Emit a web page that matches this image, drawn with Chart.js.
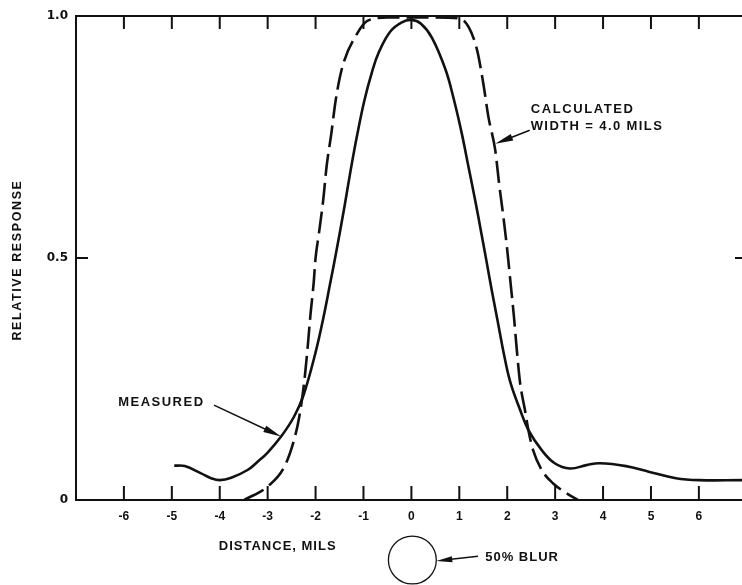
<!DOCTYPE html>
<html>
<head>
<meta charset="utf-8">
<script src="https://cdn.jsdelivr.net/npm/chart.js@4.4.0/dist/chart.umd.min.js"></script>
<style>
html, body { margin: 0; padding: 0; background: #fff; }
#wrap { width: 742px; height: 585px; position: relative; }
</style>
</head>
<body>
<div id="wrap"><canvas id="chart"></canvas></div>
<script>
// values (distance in mils, relative response)
const measuredX = [-4.95, -4.73, -4.39, -4.18, -4.0, -3.76, -3.42, -3.21, -3.0, -2.72, -2.45, -2.25, -2.0, -1.84, -1.70, -1.56, -1.39, -1.27, -1.13, -0.98, -0.82, -0.68, -0.44, -0.2, 0, 0.2, 0.43, 0.71, 0.88, 1.05, 1.19, 1.33, 1.46, 1.57, 1.68, 1.80, 1.92, 2.06, 2.27, 2.44, 2.72, 2.99, 3.31, 3.65, 3.93, 4.48, 4.97, 5.52, 6.01, 6.9];
const measuredY = [0.071, 0.07, 0.055, 0.045, 0.041, 0.046, 0.062, 0.079, 0.098, 0.131, 0.172, 0.217, 0.305, 0.375, 0.445, 0.517, 0.61, 0.68, 0.755, 0.826, 0.885, 0.925, 0.968, 0.987, 0.992, 0.984, 0.955, 0.89, 0.83, 0.758, 0.689, 0.62, 0.551, 0.492, 0.432, 0.37, 0.307, 0.245, 0.186, 0.145, 0.103, 0.076, 0.065, 0.072, 0.076, 0.07, 0.058, 0.045, 0.041, 0.041];

const calculatedX = [-3.49, -3.0, -2.65, -2.43, -2.34, -2.24, -2.17, -2.11, -2.04, -2.0, -1.93, -1.84, -1.77, -1.67, -1.58, -1.44, -1.13, -0.92, -0.5, 0, 0.5, 0.98, 1.19, 1.37, 1.5, 1.61, 1.75, 1.83, 1.92, 2.0, 2.07, 2.14, 2.2, 2.27, 2.37, 2.44, 2.54, 2.72, 2.96, 3.24, 3.48];
const calculatedY = [0.0, 0.028, 0.069, 0.131, 0.172, 0.241, 0.31, 0.379, 0.448, 0.5, 0.551, 0.62, 0.689, 0.758, 0.826, 0.895, 0.964, 0.99, 0.997, 0.997, 0.997, 0.995, 0.978, 0.93, 0.861, 0.79, 0.723, 0.654, 0.585, 0.517, 0.448, 0.379, 0.31, 0.241, 0.186, 0.145, 0.103, 0.062, 0.034, 0.014, 0.0];

const xTicks = [-6, -5, -4, -3, -2, -1, 0, 1, 2, 3, 4, 5, 6];
const yTicks = [0, 0.5, 1];
const yTickLabels = ['0', '0.5', '1.0'];

Chart.defaults.font.family = "'Liberation Sans', Arial, sans-serif";
Chart.defaults.color = '#111';

const INK = '#111';
const TEXT_FONT = "bold 13px 'Liberation Sans', Arial, sans-serif";

function arrow(ctx, x1, y1, x2, y2, headLen, headW) {
    const a = Math.atan2(y2 - y1, x2 - x1);
    const c = Math.cos(a), s = Math.sin(a);
    ctx.beginPath();
    ctx.moveTo(x1, y1);
    ctx.lineTo(x2 - c * headLen * 0.5, y2 - s * headLen * 0.5);
    ctx.stroke();
    ctx.beginPath();
    ctx.moveTo(x2, y2);
    ctx.lineTo(x2 - headLen * c + headW * s, y2 - headLen * s - headW * c);
    ctx.lineTo(x2 - headLen * c - headW * s, y2 - headLen * s + headW * c);
    ctx.closePath();
    ctx.fill();
}

// frame, inward ticks and the hand-lettered notes
const framePlugin = {
    id: 'frame',
    afterDatasetsDraw(chart) {
        const ctx = chart.ctx;
        const area = chart.chartArea;
        const x = chart.scales.x;
        const y = chart.scales.y;
        ctx.save();
        ctx.strokeStyle = INK;
        ctx.fillStyle = INK;

        // axes box (no right side)
        ctx.lineWidth = 2;
        ctx.beginPath();
        ctx.moveTo(area.right, area.top);
        ctx.lineTo(area.left, area.top);
        ctx.lineTo(area.left, area.bottom);
        ctx.lineTo(area.right, area.bottom);
        ctx.stroke();

        // inward ticks
        xTicks.forEach(v => {
            const px = x.getPixelForValue(v);
            ctx.beginPath();
            ctx.moveTo(px, area.bottom);
            ctx.lineTo(px, area.bottom - 14);
            ctx.moveTo(px, area.top);
            ctx.lineTo(px, area.top + 13);
            ctx.stroke();
        });
        const yMid = y.getPixelForValue(0.5);
        ctx.beginPath();
        ctx.moveTo(area.left, yMid);
        ctx.lineTo(area.left + 12, yMid);
        ctx.moveTo(area.right - 7, yMid);
        ctx.lineTo(area.right, yMid);
        ctx.stroke();

        // notes
        ctx.font = TEXT_FONT;
        ctx.textBaseline = 'middle';
        ctx.textAlign = 'left';
        ctx.letterSpacing = '1.6px';
        ctx.fillText('CALCULATED', x.getPixelForValue(2.49), y.getPixelForValue(0.806));
        ctx.letterSpacing = '1.4px';
        ctx.fillText('WIDTH = 4.0 MILS', x.getPixelForValue(2.49), y.getPixelForValue(0.771));
        ctx.letterSpacing = '1.5px';
        ctx.fillText('MEASURED', x.getPixelForValue(-6.12), y.getPixelForValue(0.202));
        ctx.letterSpacing = '1px';
        ctx.fillText('50% BLUR', x.getPixelForValue(1.54), y.getPixelForValue(-0.118));
        ctx.textAlign = 'center';
        ctx.fillText('DISTANCE, MILS', x.getPixelForValue(-2.79), y.getPixelForValue(-0.095));

        ctx.save();
        ctx.translate(18, (area.top + area.bottom) / 2 + 2);
        ctx.rotate(-Math.PI / 2);
        ctx.letterSpacing = '1.6px';
        ctx.font = "bold 12.5px 'Liberation Sans', Arial, sans-serif";
        ctx.fillText('RELATIVE RESPONSE', 0, 0);
        ctx.restore();
        ctx.letterSpacing = '0px';

        ctx.lineWidth = 1.5;
        arrow(ctx, x.getPixelForValue(-4.12), y.getPixelForValue(0.196),
            x.getPixelForValue(-2.72), y.getPixelForValue(0.131), 18, 3.5);
        arrow(ctx, x.getPixelForValue(2.47), y.getPixelForValue(0.764),
            x.getPixelForValue(1.75), y.getPixelForValue(0.736), 18, 3.5);

        // blur circle: diameter of one mil
        const cx = x.getPixelForValue(0.02);
        const cy = y.getPixelForValue(-0.124);
        const r = (x.getPixelForValue(1) - x.getPixelForValue(0)) / 2;
        ctx.lineWidth = 1.3;
        ctx.beginPath();
        ctx.arc(cx, cy, r, 0, Math.PI * 2);
        ctx.stroke();
        ctx.lineWidth = 1.5;
        arrow(ctx, x.getPixelForValue(1.39), y.getPixelForValue(-0.116),
            cx + r, cy + 1, 16, 3);

        ctx.restore();
    }
};

new Chart(document.getElementById('chart'), {
    type: 'line',
    data: {
        datasets: [{
            label: 'Measured',
            data: measuredX.map((v, i) => ({ x: v, y: measuredY[i] })),
            borderColor: INK,
            borderWidth: 2.6,
            pointRadius: 0,
            tension: 0.4,
            fill: false
        }, {
            label: 'Calculated',
            data: calculatedX.map((v, i) => ({ x: v, y: calculatedY[i] })),
            borderColor: INK,
            borderWidth: 2.6,
            borderDash: [22, 7],
            pointRadius: 0,
            cubicInterpolationMode: 'monotone',
            fill: false
        }]
    },
    options: {
        responsive: true,
        maintainAspectRatio: false,
        animation: false,
        layout: { padding: { top: 16, right: 0, left: 0, bottom: 0 } },
        plugins: {
            legend: { display: false },
            tooltip: { enabled: false }
        },
        scales: {
            x: {
                type: 'linear',
                min: -7,
                max: 6.9,
                afterBuildTicks: s => { s.ticks = xTicks.map(v => ({ value: v })); },
                afterFit: s => { s.height = 85; },
                grid: { drawOnChartArea: false, drawTicks: false },
                border: { display: false },
                ticks: {
                    autoSkip: false,
                    maxRotation: 0,
                    padding: 9,
                    color: INK,
                    font: { size: 12, weight: 'bold' },
                    callback: v => String(v)
                }
            },
            y: {
                min: 0,
                max: 1,
                afterBuildTicks: s => { s.ticks = yTicks.map(v => ({ value: v })); },
                afterFit: s => { s.width = 76; },
                grid: { drawOnChartArea: false, drawTicks: false },
                border: { display: false },
                ticks: {
                    padding: 8,
                    color: INK,
                    font: { family: "'DejaVu Sans', sans-serif", size: 12, weight: 'bold' },
                    callback: v => yTickLabels[yTicks.indexOf(v)]
                }
            }
        }
    },
    plugins: [framePlugin]
});
</script>
</body>
</html>
